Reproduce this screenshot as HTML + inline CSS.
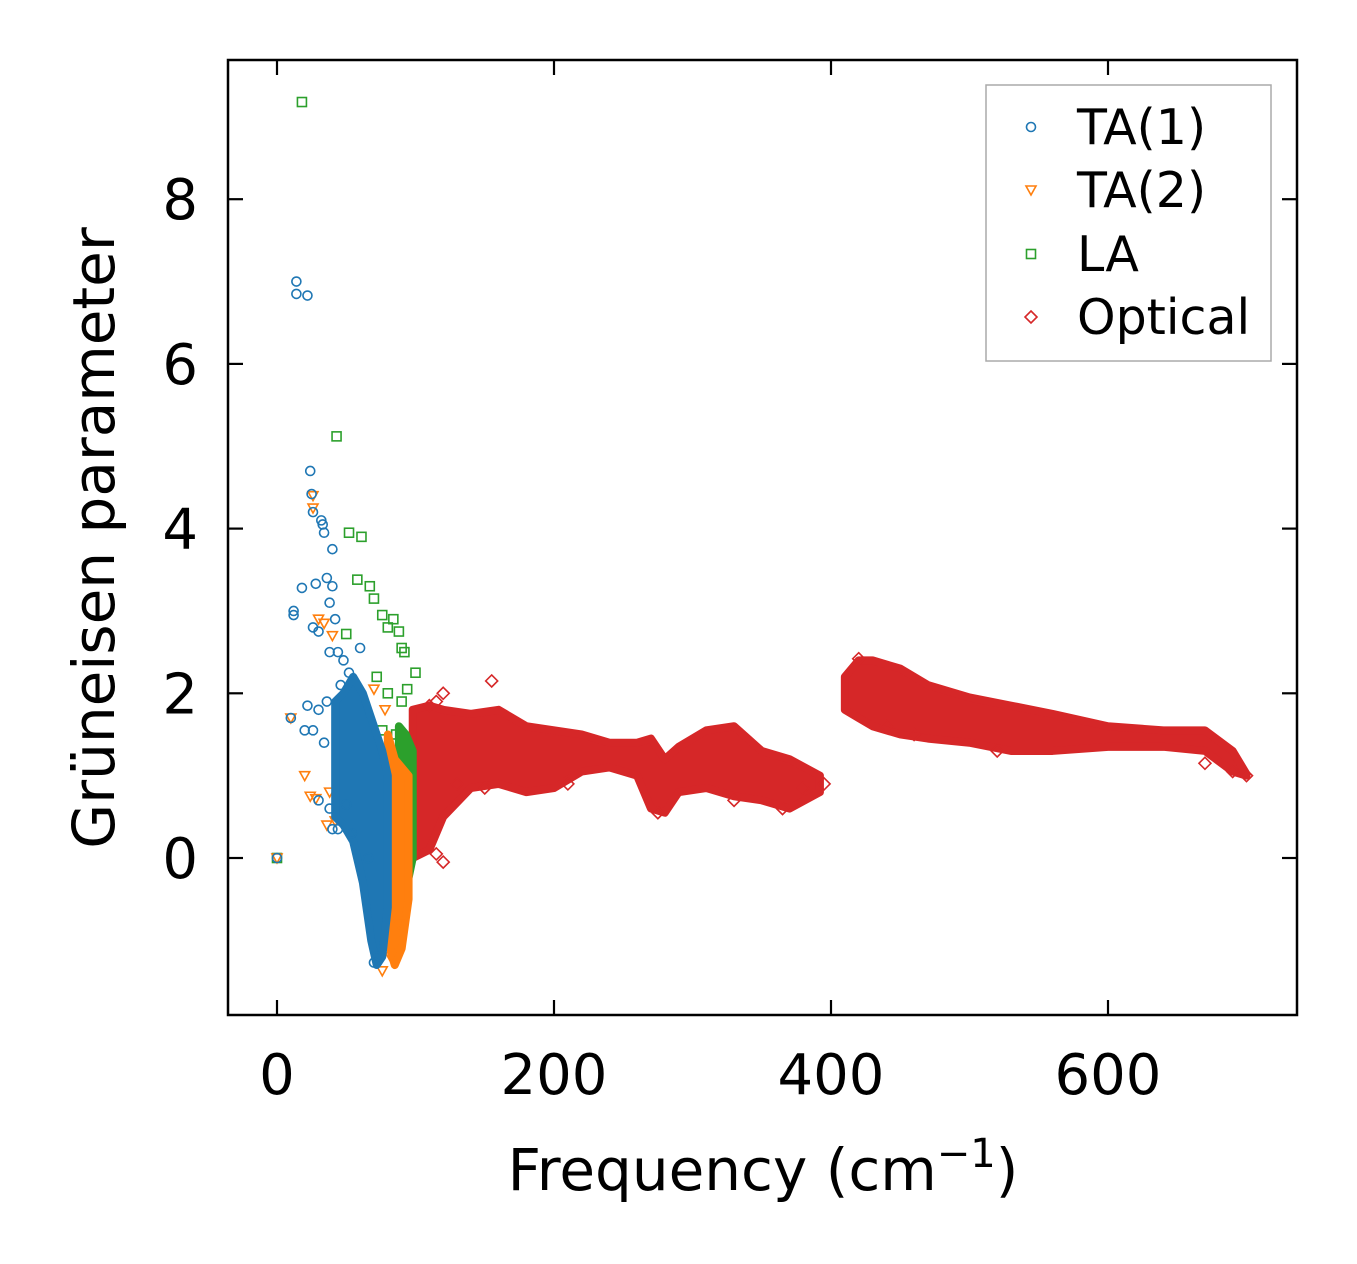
<!DOCTYPE html>
<html><head><meta charset="utf-8"><style>
html,body{margin:0;padding:0;background:#fff;}
svg{display:block;font-family:"DejaVu Sans","Liberation Sans",sans-serif;}
</style></head><body>
<svg id="chart" width="1357" height="1264" viewBox="0 0 1357 1264">
<g id="plot"></g>
<g id="axes"></g>
</svg>
<script>
// ---- data ----
const xTicks=[0,200,400,600];
const yTicks=[0,2,4,6,8];
const seriesNames=["TA(1)","TA(2)","LA","Optical"];
const seriesColors=["#1f77b4","#ff7f0e","#2ca02c","#d62728"];
// dense band envelopes: [freq, lower, upper]
const opticalBandA=[[98,0.0,1.8],[110,0.1,1.85],[120,0.5,1.8],[140,0.85,1.75],[160,0.9,1.8],[180,0.8,1.6],[200,0.85,1.55],[220,1.05,1.5],[240,1.1,1.4],[260,1.0,1.4],[270,0.6,1.45],[280,0.55,1.2],[290,0.8,1.35],[310,0.85,1.55],[330,0.75,1.6],[350,0.7,1.3],[370,0.6,1.2],[392,0.8,1.0]];
const opticalBandB=[[410,1.8,2.2],[420,1.7,2.4],[430,1.6,2.4],[450,1.5,2.3],[470,1.45,2.1],[500,1.4,1.95],[530,1.3,1.85],[560,1.3,1.75],[600,1.35,1.6],[640,1.35,1.55],[670,1.3,1.55],[690,1.05,1.3],[700,1.0,1.02]];
const ta1Band=[[42,0.5,1.9],[48,0.4,2.0],[55,0.2,2.2],[62,-0.3,2.0],[68,-1.0,1.7],[72,-1.3,1.5],[76,-1.2,1.3],[80,-0.6,1.0]];
const ta2Band=[[80,-1.0,1.5],[85,-1.3,1.2],[90,-1.1,1.1],[95,-0.5,1.0]];
const laBand=[[88,-0.2,1.6],[93,-0.4,1.5],[98,0.0,1.3]];
const ta1Points=[[0,0],[14,7.0],[14,6.85],[22,6.83],[24,4.7],[25,4.42],[26,4.2],[32,4.1],[33,4.05],[34,3.95],[40,3.75],[18,3.28],[28,3.33],[36,3.4],[40,3.3],[38,3.1],[12,3.0],[12,2.95],[42,2.9],[26,2.8],[30,2.75],[38,2.5],[44,2.5],[48,2.4],[22,1.85],[30,1.8],[36,1.9],[20,1.55],[26,1.55],[30,0.7],[38,0.6],[40,0.35],[44,0.35],[50,0.65],[54,0.3],[60,2.55],[10,1.7],[34,1.4],[46,2.1],[52,2.25],[70,-1.27],[72,-1.2],[66,0.0]];
const ta2Points=[[0,0],[10,1.7],[26,4.4],[26,4.25],[30,2.9],[34,2.85],[40,2.7],[20,1.0],[24,0.75],[28,0.72],[38,0.8],[42,0.45],[36,0.4],[46,0.6],[70,2.05],[78,1.8],[76,-1.37],[82,-1.2],[88,-0.8],[60,0.7]];
const laPoints=[[0,0],[18,9.18],[43,5.12],[52,3.95],[61,3.9],[58,3.38],[67,3.3],[70,3.15],[76,2.95],[80,2.8],[84,2.9],[88,2.75],[90,2.55],[92,2.5],[50,2.72],[100,2.25],[72,2.2],[80,2.0],[90,1.9],[94,2.05],[94,-0.35],[86,1.5],[76,1.55]];
const opticalPoints=[[155,2.15],[120,2.0],[115,1.9],[110,1.85],[120,-0.05],[115,0.05],[210,0.9],[420,2.42],[700,1.0],[690,1.05],[670,1.15],[395,0.9],[380,0.85],[130,0.9],[150,0.85],[275,0.55],[330,0.7],[365,0.6],[440,1.6],[460,1.5],[520,1.3]];

// ---- axis functions ----
const L=228,R=1297,T=60,B=1015;
const X=v=>277+v*1.385;
const Y=v=>858-v*82.35;
const NS="http://www.w3.org/2000/svg";
const plot=document.getElementById('plot'),axes=document.getElementById('axes');
function mk(tag,attrs,parent){const e=document.createElementNS(NS,tag);for(const k in attrs)e.setAttribute(k,attrs[k]);parent.appendChild(e);return e;}

function band(arr,color,name){
  const up=arr.map(d=>X(d[0])+','+Y(d[2]));
  const lo=arr.slice().reverse().map(d=>X(d[0])+','+Y(d[1]));
  const p=mk('polygon',{points:up.concat(lo).join(' '),fill:color,stroke:color,'stroke-width':8,'stroke-linejoin':'round'},plot);
  
  
}
function marker(type,x,y,color,parent){
  let e;
  if(type===0)e=mk('circle',{cx:x,cy:y,r:4.5,fill:'none',stroke:color,'stroke-width':1.6},parent);
  else if(type===1)e=mk('polygon',{points:`${x-5},${y-4} ${x+5},${y-4} ${x},${y+5}`,fill:'none',stroke:color,'stroke-width':1.6},parent);
  else if(type===2)e=mk('rect',{x:x-4.5,y:y-4.5,width:9,height:9,fill:'none',stroke:color,'stroke-width':1.6},parent);
  else e=mk('polygon',{points:`${x},${y-6} ${x+6},${y} ${x},${y+6} ${x-6},${y}`,fill:'none',stroke:color,'stroke-width':1.6},parent);
  return e;
}
function points(arr,type,color,name){
  arr.forEach(d=>{const e=marker(type,X(d[0]),Y(d[1]),color,plot);
    
    });
}
band(opticalBandA,seriesColors[3],'optical-band-low');
band(opticalBandB,seriesColors[3],'optical-band-high');
points(opticalPoints,3,seriesColors[3],'optical-point');
band(laBand,seriesColors[2],'la-band');
points(laPoints,2,seriesColors[2],'la-point');
band(ta2Band,seriesColors[1],'ta2-band');
points(ta2Points,1,seriesColors[1],'ta2-point');
band(ta1Band,seriesColors[0],'ta1-band');
points(ta1Points,0,seriesColors[0],'ta1-point');

// frame
const fr=mk('rect',{x:L,y:T,width:R-L,height:B-T,fill:'none',stroke:'#000','stroke-width':2.5},axes);

xTicks.forEach(v=>{const x=X(v);
  mk('line',{x1:x,x2:x,y1:B,y2:B-15,stroke:'#000','stroke-width':2.2},axes);
  mk('line',{x1:x,x2:x,y1:T,y2:T+15,stroke:'#000','stroke-width':2.2},axes);
  const t=mk('text',{x:x,y:1094,'text-anchor':'middle','font-size':56},axes);t.textContent=v;
  
  
});
yTicks.forEach(v=>{const y=Y(v);
  mk('line',{x1:L,x2:L+15,y1:y,y2:y,stroke:'#000','stroke-width':2.2},axes);
  mk('line',{x1:R,x2:R-15,y1:y,y2:y,stroke:'#000','stroke-width':2.2},axes);
  const t=mk('text',{x:198,y:y+20,'text-anchor':'end','font-size':56},axes);t.textContent=v;
  
  
});
const xl=mk('text',{x:763,y:1190,'text-anchor':'middle','font-size':58},axes);
xl.innerHTML='Frequency (cm<tspan dy="-23" font-size="40">−1</tspan><tspan dy="23">)</tspan>';

const yl=mk('text',{x:0,y:0,'text-anchor':'middle','font-size':58,transform:'translate(114,538) rotate(-90)'},axes);
yl.textContent='Grüneisen parameter';


// legend
const lg=mk('g',{},axes);

mk('rect',{x:986,y:85,width:285,height:276,fill:'#fff',stroke:'#aaa','stroke-width':1.5},lg);
const ly=[127,190,254,317];
seriesNames.forEach((n,i)=>{
  const m=marker(i,1031,ly[i],seriesColors[i],lg);
  
  const t=mk('text',{x:1077,y:ly[i]+17,'font-size':49},lg);t.textContent=n;
  
  
});
</script>
</body></html>
